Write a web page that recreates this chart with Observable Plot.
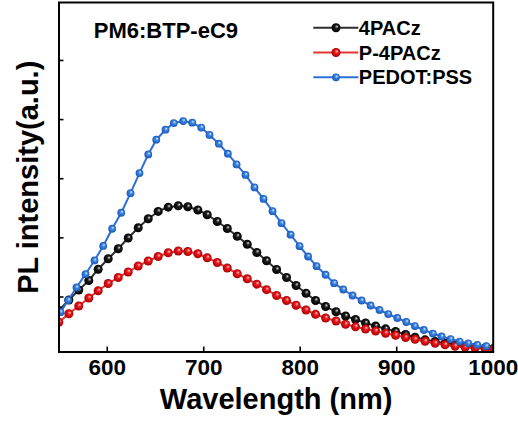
<!DOCTYPE html>
<html><head><meta charset="utf-8">
<script src="https://cdn.jsdelivr.net/npm/d3@7"></script>
<script src="https://cdn.jsdelivr.net/npm/@observablehq/plot@0.6"></script>
<style>
body{margin:0;background:#fff}
svg{display:block;font-family:"Liberation Sans",Arial,sans-serif;font-weight:bold}
</style>
</head><body><div id="chart"></div>
<script>
// ---- data ----
const seriesNames = ["4PACz", "P-4PACz", "PEDOT:PSS"];
const xTicks = [600, 700, 800, 900, 1000];
const yTicks = [1, 2, 3, 4, 5];

// wavelengths (nm) of the 4PACz and P-4PACz points
const wlBlackRed = [549.8, 560.2, 570.5, 580.9, 590.6, 601.0, 611.4, 621.7, 632.1, 642.5,
  652.8, 663.2, 673.6, 683.5, 693.9, 703.6, 714.0, 724.4, 734.7, 745.1,
  755.0, 765.1, 775.5, 785.8, 795.7, 806.0, 815.9, 826.3, 837.1, 847.0,
  857.3, 867.7, 878.1, 888.5, 898.8, 909.2, 919.0, 929.4, 939.8, 950.1,
  960.5, 970.9, 981.2, 991.6, 1000.4];
const pl4PACz = [0.772, 0.949, 1.118, 1.279, 1.470, 1.646, 1.816, 1.998, 2.171, 2.323,
  2.447, 2.519, 2.543, 2.526, 2.472, 2.391, 2.277, 2.159, 2.027, 1.893,
  1.753, 1.613, 1.465, 1.330, 1.195, 1.064, 0.941, 0.839, 0.751, 0.679,
  0.619, 0.560, 0.509, 0.462, 0.416, 0.365, 0.320, 0.276, 0.247, 0.217,
  0.191, 0.169, 0.152, 0.140, 0.132];
const plP4PACz = [0.574, 0.716, 0.848, 0.983, 1.105, 1.228, 1.330, 1.423, 1.525, 1.609,
  1.685, 1.748, 1.778, 1.770, 1.731, 1.663, 1.584, 1.491, 1.393, 1.308,
  1.217, 1.124, 1.025, 0.941, 0.861, 0.780, 0.707, 0.645, 0.594, 0.540,
  0.496, 0.459, 0.425, 0.386, 0.352, 0.315, 0.284, 0.250, 0.218, 0.191,
  0.168, 0.151, 0.137, 0.129, 0.120];

// wavelengths (nm) of the PEDOT:PSS points
const wlBlue = [551.6, 559.5, 568.1, 577.5, 586.8, 595.8, 605.1, 614.5, 624.1, 633.4,
  642.5, 650.8, 660.4, 669.0, 678.7, 688.1, 697.4, 706.0, 715.6, 725.0,
  734.0, 743.3, 752.6, 762.0, 771.3, 780.6, 790.0, 799.3, 808.1, 816.9,
  826.3, 835.1, 844.6, 854.2, 863.6, 872.9, 882.2, 891.2, 900.6, 909.9,
  918.8, 928.1, 937.5, 946.5, 955.8, 965.2, 974.2, 983.5, 992.8];
const plPEDOT = [0.743, 0.946, 1.161, 1.386, 1.618, 1.863, 2.154, 2.425, 2.756, 3.095,
  3.411, 3.660, 3.829, 3.941, 3.975, 3.948, 3.865, 3.741, 3.592, 3.423,
  3.242, 3.064, 2.853, 2.658, 2.452, 2.249, 2.054, 1.860, 1.685, 1.521,
  1.376, 1.234, 1.127, 1.025, 0.941, 0.856, 0.780, 0.712, 0.645, 0.577,
  0.509, 0.442, 0.382, 0.332, 0.289, 0.247, 0.217, 0.191, 0.168];

// ---- styles ----
const W = 518, H = 423;
const mL = 58.5, mR = 25.3, mT = 2, mB = 71.5;
const styles = [
  {line: "#2e2e2e", hi: "#e0e0e0", mid: "#1c1c1c", dark: "#000000", r: 4.5, id: "gBlack"},
  {line: "#e63434", hi: "#ffc8c8", mid: "#ea1a20", dark: "#a80000", r: 4.5, id: "gRed"},
  {line: "#2d6fd8", hi: "#e0eeff", mid: "#3d86e2", dark: "#1b58b8", r: 3.9, id: "gBlue"}
];
const series = [
  {name: seriesNames[0], wl: wlBlackRed, v: pl4PACz},
  {name: seriesNames[1], wl: wlBlackRed, v: plP4PACz},
  {name: seriesNames[2], wl: wlBlue, v: plPEDOT}
].map(s => ({name: s.name, rows: s.wl.map((w, i) => ({wl: w, v: s.v[i]}))}));

// gradient definitions (render-function mark)
function gradDefs() {
  const g = d3.create("svg:g");
  const defs = g.append("defs");
  for (const s of styles) {
    const rg = defs.append("radialGradient").attr("id", s.id)
      .attr("cx", "50%").attr("cy", "50%").attr("r", "50%")
      .attr("fx", "62%").attr("fy", "34%");
    rg.append("stop").attr("offset", "0%").attr("stop-color", s.hi);
    rg.append("stop").attr("offset", "40%").attr("stop-color", s.mid);
    rg.append("stop").attr("offset", "100%").attr("stop-color", s.dark);
  }
  return g.node();
}

// legend (render-function mark)
function legend() {
  const g = d3.create("svg:g");
  const x1 = 313.3, x2 = 358.3, xc = 336, y0 = 27.7, step = 24.8;
  series.forEach((s, i) => {
    const st = styles[i], y = y0 + i * step;
    g.append("line").attr("x1", x1).attr("x2", x2).attr("y1", y).attr("y2", y)
      .attr("stroke", st.line).attr("stroke-width", 2);
    g.append("circle").attr("cx", xc).attr("cy", y).attr("r", st.r)
      .attr("fill", `url(#${st.id})`);
    g.append("text").attr("x", x2 + 0.5).attr("y", y + 7)
      .attr("font-size", 20).attr("font-weight", "bold").attr("fill", "#000")
      .attr("text-anchor", "start")
      .text(s.name);
  });
  return g.node();
}

const marks = [gradDefs];
series.forEach((s, i) => {
  const st = styles[i];
  marks.push(Plot.line(s.rows, {x: "wl", y: "v", stroke: st.line, strokeWidth: 2, clip: true}));
  marks.push(Plot.dot(s.rows, {x: "wl", y: "v", r: st.r, fill: `url(#${st.id})`, stroke: "none", clip: true}));
});

const fw = W - mL - mR, fh = H - mT - mB;
marks.push(
  Plot.ruleX(xTicks, {x: d => d, stroke: "#000", strokeWidth: 1.6, insetTop: fh - 5}),
  Plot.ruleY(yTicks, {y: d => d, stroke: "#000", strokeWidth: 1.6, insetRight: fw - 5}),
  Plot.axisX(xTicks, {tickSize: 0, tickPadding: 7, tickFormat: d => String(d), fontSize: 22.5, fontWeight: "bold", fill: "#000", label: null}),
  Plot.text(["Wavelength (nm)"], {frameAnchor: "bottom", dy: 57, lineAnchor: "bottom", text: d => d, fontSize: 29, fontWeight: "bold", fill: "#000"}),
  Plot.text(["PL intensity(a.u.)"], {frameAnchor: "left", dx: -21.5, rotate: -90, lineAnchor: "bottom", textAnchor: "middle", text: d => d, fontSize: 29, fontWeight: "bold", fill: "#000"}),
  Plot.text(["PM6:BTP-eC9"], {frameAnchor: "top-left", dx: 34.8, dy: 35.5, lineAnchor: "bottom", textAnchor: "start", text: d => d, fontSize: 22, fontWeight: "bold", fill: "#000"}),
  legend,
  Plot.frame({stroke: "#000", strokeWidth: 2})
);

const chart = Plot.plot({
  width: W, height: H,
  marginLeft: mL, marginRight: mR, marginTop: mT, marginBottom: mB,
  x: {domain: [550, 1000], axis: null},
  y: {domain: [0.07, 5.98], axis: null},
  style: {background: "#fff", fontFamily: "'Liberation Sans', Arial, sans-serif", overflow: "visible"},
  marks
});
document.getElementById("chart").append(chart);
</script>
</body></html>
